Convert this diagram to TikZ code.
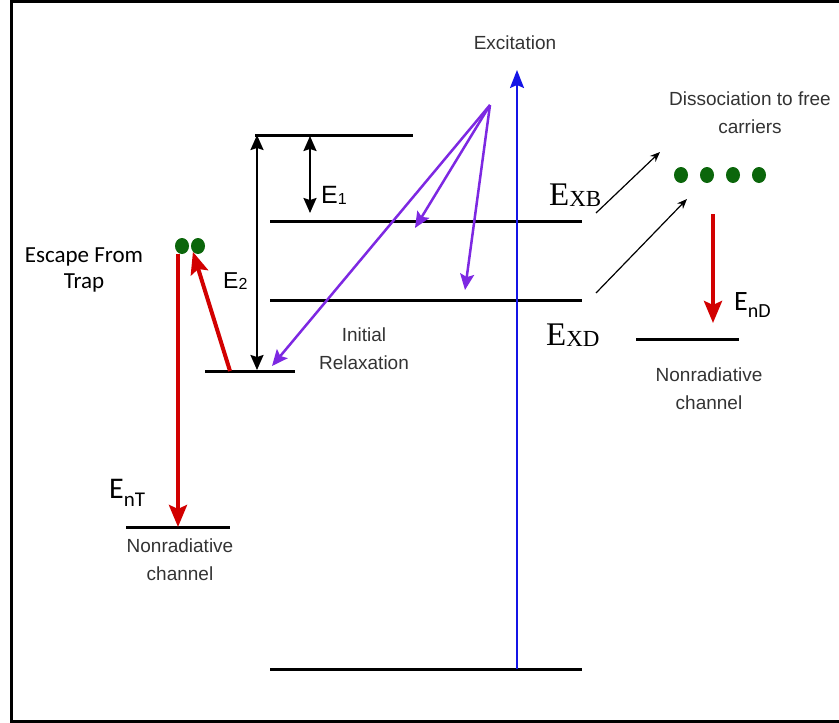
\documentclass[tikz,border=0pt]{standalone}
\usepackage{fontspec}
\setmainfont{Liberation Sans}
\newfontfamily\calfont{Carlito}
\newfontfamily\timesfont{Liberation Serif}
\usetikzlibrary{arrows.meta, shapes.geometric}
\definecolor{excblue}{HTML}{1414E6}
\definecolor{relaxviolet}{HTML}{7D28E2}
\definecolor{trapred}{HTML}{D20000}
\definecolor{dotgreen}{HTML}{0B660B}
\definecolor{labelgrey}{HTML}{333333}

\begin{document}
\begin{tikzpicture}[x=1pt, y=-1pt,
    level/.style={line width=3pt},
    lbl/.style={font=\fontsize{19}{28}\selectfont, text=labelgrey, align=center, inner sep=0pt},
    elbl/.style={anchor=base west, inner sep=0pt},
    pump/.style={-{Stealth[length=18pt, width=14pt, inset=3pt]}, excblue, line width=2pt},
    gap/.style={{Stealth[length=15pt, width=13pt, inset=2pt]}-{Stealth[length=15pt, width=13pt, inset=2pt]}, line width=2pt},
    relax/.style={-{Stealth[length=16pt, width=14pt, inset=3pt]}, relaxviolet, line width=2.5pt},
    nonrad/.style={-{Stealth[length=22pt, width=18pt, inset=4pt]}, trapred, line width=4pt},
    split/.style={-{Stealth[length=10pt, width=8pt]}, line width=1.2pt},
    carrier/.style={ellipse, fill=dotgreen, minimum width=14pt, minimum height=16pt, inner sep=0pt}]
  \useasboundingbox (0,0) rectangle (839,723);
  % frame (right side cut off)
  \draw[line width=3pt] (840,1.5) -- (11,1.5) -- (11,721) -- (840,721);

  % energy levels
  \draw[level] (255,135) coordinate (top l) -- (413,135) coordinate (top r);
  \draw[level] (270,221) coordinate (xb l) -- (582,221) coordinate (xb r);
  \draw[level] (270,300) coordinate (xd l) -- (582,300) coordinate (xd r);
  \draw[level] (205,371) coordinate (trap l) -- (295,371) coordinate (trap r);
  \draw[level] (270,669) coordinate (gs l) -- (582,669) coordinate (gs r);
  \draw[level] (126,527) coordinate (nt l) -- (230,527) coordinate (nt r);
  \draw[level] (636,339) coordinate (nd l) -- (739,339) coordinate (nd r);

  % excitation
  \coordinate (pump0) at (517,669);
  \coordinate (pump1) at (517,70);
  \draw[pump] (pump0) -- (pump1);
  \node[lbl] (exc) at (515,43) {Excitation};

  % gaps E1, E2
  \coordinate (e1a) at (310,136);
  \coordinate (e1b) at (310,213);
  \coordinate (e2a) at (257,135);
  \coordinate (e2b) at (257,370);
  \draw[gap] (e1a) -- (e1b);
  \draw[gap] (e2a) -- (e2b);
  \node[elbl] (e1) at (321,203) {\fontsize{25}{25}\selectfont E\raisebox{-1pt}{\fontsize{16}{16}\selectfont 1}};
  \node[elbl] (e2) at (223,288) {\fontsize{23}{23}\selectfont E\raisebox{-1pt}{\fontsize{16}{16}\selectfont 2}};

  % initial relaxation
  \coordinate (src) at (490,105);
  \coordinate (rel1) at (272,366);
  \coordinate (rel2) at (415,228);
  \coordinate (rel3) at (465,290);
  \draw[relax] (src) -- (rel1);
  \draw[relax] (src) -- (rel2);
  \draw[relax] (src) -- (rel3);
  \node[lbl] (relaxtxt) at (364,349) {Initial\\Relaxation};

  % exciton levels
  \node[elbl] (exb) at (549,205) {\timesfont\fontsize{33}{33}\selectfont E\raisebox{-1pt}{\fontsize{23}{23}\selectfont XB}};
  \node[elbl] (exd) at (546,345) {\timesfont\fontsize{33}{33}\selectfont E\raisebox{-1pt}{\fontsize{23}{23}\selectfont XD}};

  % trap side
  \node[carrier] (t1) at (182,246) {};
  \node[carrier] (t2) at (198,246) {};
  \draw[nonrad] (178,254) -- (nt l -| 178,0);
  \draw[nonrad] (230,371) -- (t2.south west);
  \node[elbl] (ent) at (109,498) {\calfont\fontsize{30}{30}\selectfont E\raisebox{-8pt}{\fontsize{21}{21}\selectfont nT}};
  \node[font=\calfont\fontsize{23}{26}\selectfont, align=center, inner sep=0pt] (escape) at (84,270) {Escape From\\Trap};
  \node[lbl] (nrleft) at (180,560) {Nonradiative\\channel};

  % dissociation side
  \node[carrier] (c1) at (681,175) {};
  \node[carrier] (c2) at (707,175) {};
  \node[carrier] (c3) at (733,175) {};
  \node[carrier] (c4) at (759,175) {};
  \coordinate (sb0) at (596,213);
  \coordinate (sb1) at (660,152);
  \coordinate (sd0) at (596,293);
  \coordinate (sd1) at (687,199);
  \draw[split] (sb0) -- (sb1);
  \draw[split] (sd0) -- (sd1);
  \node[lbl] (diss) at (750,113) {Dissociation to free\\carriers};
  \coordinate (nd0) at (713,214);
  \coordinate (nd1) at (713,323);
  \draw[nonrad] (nd0) -- (nd1);
  \node[elbl] (end) at (734,310) {\calfont\fontsize{28}{28}\selectfont E\raisebox{-7pt}{\fontsize{20}{20}\selectfont nD}};
  \node[lbl] (nrright) at (709,389) {Nonradiative\\channel};
\end{tikzpicture}
\end{document}
